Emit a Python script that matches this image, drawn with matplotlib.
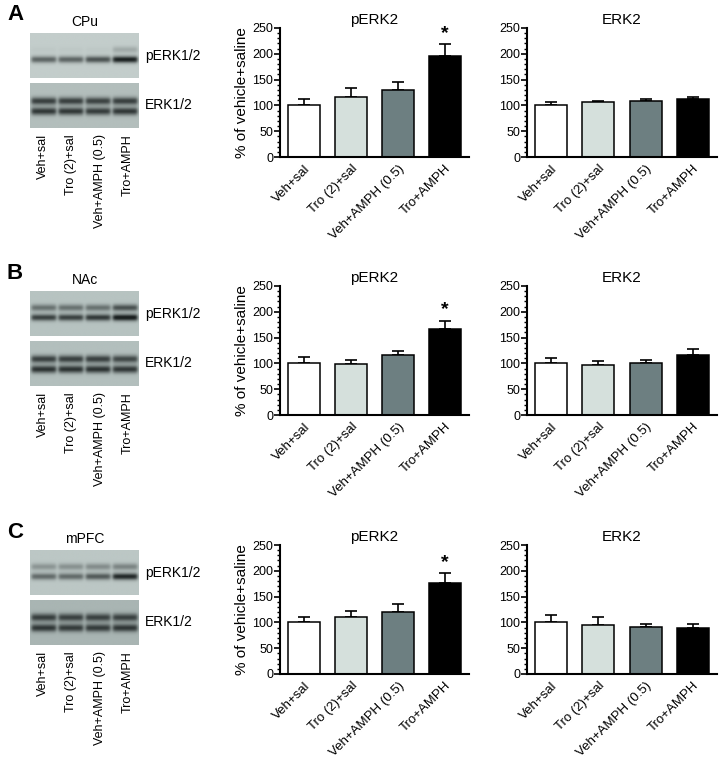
import numpy as np
import matplotlib
matplotlib.use("Agg")
import matplotlib.pyplot as plt
from matplotlib.colors import LinearSegmentedColormap
from matplotlib.ticker import MultipleLocator

plt.rcParams['font.family'] = ['Liberation Sans', 'DejaVu Sans']

groups = ['Veh+sal', 'Tro (2)+sal', 'Veh+AMPH (0.5)', 'Tro+AMPH']
regions = ['CPu', 'NAc', 'mPFC']
panels = ['A', 'B', 'C']
bar_colors = ['#ffffff', '#d5e0dc', '#6d7f81', '#000000']

# % of vehicle+saline, mean and SEM
perk2_mean = {'CPu': [100, 117, 130, 195], 'NAc': [100, 98, 117, 166], 'mPFC': [100, 111, 121, 176]}
perk2_sem = {'CPu': [12, 16, 15, 24], 'NAc': [13, 9, 8, 17], 'mPFC': [11, 11, 15, 19]}
erk2_mean = {'CPu': [100, 107, 108, 112], 'NAc': [100, 96, 101, 116], 'mPFC': [100, 95, 91, 89]}
erk2_sem = {'CPu': [6, 1.5, 5, 4], 'NAc': [10, 9, 6, 11], 'mPFC': [15, 15, 5, 8]}
signif = {'CPu': [3], 'NAc': [3], 'mPFC': [3]}

# blot band darkness per lane (upper band = ERK1, lower band = ERK2)
perk_upper = {'CPu': [0.03, 0.03, 0.03, 0.2], 'NAc': [0.5, 0.5, 0.5, 0.7], 'mPFC': [0.3, 0.32, 0.35, 0.4]}
perk_lower = {'CPu': [0.6, 0.6, 0.7, 1.0], 'NAc': [0.8, 0.8, 0.85, 1.05], 'mPFC': [0.55, 0.55, 0.65, 0.95]}
erk_upper = {'CPu': [0.8, 0.8, 0.78, 0.8], 'NAc': [0.8, 0.8, 0.8, 0.75], 'mPFC': [0.8, 0.78, 0.78, 0.78]}
erk_lower = {'CPu': [0.85, 0.85, 0.82, 0.85], 'NAc': [0.88, 0.88, 0.88, 0.85], 'mPFC': [0.85, 0.82, 0.82, 0.85]}
perk_bg = {'CPu': '#c3cdcb', 'NAc': '#b7c3c1', 'mPFC': '#bcc7c5'}
erk_bg = {'CPu': '#b3bebc', 'NAc': '#b3bfbd', 'mPFC': '#a9b5b3'}

W, H = 724, 771
fig = plt.figure(figsize=(W / 100, H / 100), dpi=100)
row_off = [0, 258, 517]


def px_axes(l, t, r, b):
    return fig.add_axes([l / W, 1 - b / H, (r - l) / W, (b - t) / H])


def blot(ax, upper, lower, y_up, y_low, bg, sig):
    ny, nx = 80, 200
    yy = np.linspace(0, 1, ny)[:, None]
    xx = np.linspace(0, 4, nx)[None, :]
    img = np.zeros((ny, nx))
    for i in range(4):
        lane = 1 / (1 + np.exp(-(xx - i - 0.05) * 30)) * 1 / (1 + np.exp((xx - i - 0.95) * 30))
        img += lane * (upper[i] * np.exp(-((yy - y_up) / sig) ** 2)
                       + lower[i] * np.exp(-((yy - y_low) / sig) ** 2))
    cmap = LinearSegmentedColormap.from_list('blot', [bg, '#1a2020'])
    ax.imshow(np.clip(img, 0, 1), cmap=cmap, vmin=0, vmax=1, aspect='auto',
              extent=[0, 4, 1, 0], interpolation='bilinear')
    ax.set_axis_off()


def bars(ax, mean, sem, title, stars, ylabel=False):
    x = np.arange(4)
    ax.bar(x, mean, width=0.68, color=bar_colors, edgecolor='black', linewidth=1.1, zorder=2)
    ax.errorbar(x, mean, yerr=[np.zeros(4), sem], fmt='none', ecolor='black',
                elinewidth=1.2, capsize=4, capthick=1.2, zorder=1)
    for s in stars:
        ax.text(s, mean[s] + sem[s] + 4, '*', ha='center', va='bottom', fontsize=14, fontweight='bold')
    ax.set_xlim(-0.52, 3.52)
    ax.set_ylim(0, 250)
    ax.yaxis.set_major_locator(MultipleLocator(50))
    ax.yaxis.set_minor_locator(MultipleLocator(10))
    ax.spines['top'].set_visible(False)
    ax.spines['right'].set_visible(False)
    ax.spines['left'].set_linewidth(1.5)
    ax.spines['bottom'].set_linewidth(1.5)
    ax.tick_params(axis='y', which='major', length=4, width=1.2, labelsize=9, pad=1)
    ax.tick_params(axis='y', which='minor', length=2, width=1)
    ax.tick_params(axis='x', length=0, pad=4)
    ax.set_xticks(x)
    ax.set_xticklabels(groups, rotation=45, ha='right', rotation_mode='anchor', fontsize=9.5)
    ax.set_title(title, fontsize=11, pad=3)
    if ylabel:
        ax.set_ylabel('% of vehicle+saline', fontsize=11, labelpad=2)


for k, reg in enumerate(regions):
    o = row_off[k]
    fig.text(15 / W, 1 - (15 + o) / H, panels[k], fontsize=16, fontweight='bold', ha='center', va='center')
    fig.text(85 / W, 1 - (22 + o) / H, reg, fontsize=10, ha='center', va='center')

    ax1 = px_axes(30, 33 + o, 139, 78 + o)
    blot(ax1, perk_upper[reg], perk_lower[reg], 0.37, 0.59, perk_bg[reg], 0.075)
    ax2 = px_axes(30, 83 + o, 139, 128 + o)
    blot(ax2, erk_upper[reg], erk_lower[reg], 0.4, 0.63, erk_bg[reg], 0.085)
    fig.text(145 / W, 1 - (56 + o) / H, 'pERK1/2', fontsize=10, ha='left', va='center')
    fig.text(145 / W, 1 - (105 + o) / H, 'ERK1/2', fontsize=10, ha='left', va='center')
    for i, g in enumerate(groups):
        fig.text((43 + 28.3 * i) / W, 1 - (134 + o) / H, g, rotation=90, fontsize=9,
                 ha='center', va='top')

    axp = px_axes(280, 28 + o, 469, 157 + o)
    bars(axp, perk2_mean[reg], perk2_sem[reg], 'pERK2', signif[reg], ylabel=True)
    axe = px_axes(527, 28 + o, 717, 157 + o)
    bars(axe, erk2_mean[reg], erk2_sem[reg], 'ERK2', [])

fig.savefig('out.png', dpi=100)
